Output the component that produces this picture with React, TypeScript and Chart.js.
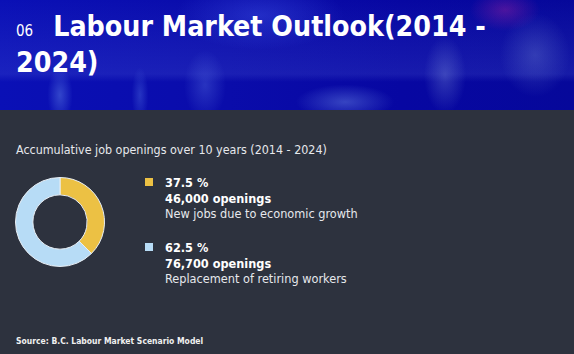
import React, { useEffect, useRef } from "react";
import { Chart, registerables } from "chart.js";

Chart.register(...registerables);

const categories = ["New jobs due to economic growth", "Replacement of retiring workers"];
const percents = [37.5, 62.5];
const openings = ["46,000", "76,700"];
const colors = ["#ECC144", "#B7DCF6"];

const FONT = "'DejaVu Sans Condensed', 'DejaVu Sans', sans-serif";

export default function App() {
  const ref = useRef<HTMLCanvasElement>(null);

  useEffect(() => {
    document.body.style.margin = "0";
    const ctx = ref.current!;
    const chart = new Chart(ctx, {
      type: "doughnut",
      data: {
        labels: categories,
        datasets: [
          {
            data: percents,
            backgroundColor: colors,
            borderColor: "#E8EEF4",
            borderWidth: 1,
          },
        ],
      },
      options: {
        responsive: false,
        animation: false,
        cutout: "61%",
        layout: { padding: 0 },
        plugins: { legend: { display: false }, tooltip: { enabled: false } },
      },
    });
    return () => chart.destroy();
  }, []);

  const headerBg = [
    "radial-gradient(ellipse 50px 30px at 505px 10px, rgba(200,40,160,0.35), rgba(200,40,160,0) 70%)",
    "radial-gradient(ellipse 70px 25px at 345px 102px, rgba(110,140,230,0.45), rgba(110,140,230,0) 70%)",
    "radial-gradient(ellipse 30px 55px at 445px 75px, rgba(130,150,220,0.35), rgba(130,150,220,0) 70%)",
    "radial-gradient(ellipse 50px 60px at 535px 55px, rgba(110,130,210,0.35), rgba(110,130,210,0) 70%)",
    "radial-gradient(ellipse 18px 40px at 60px 95px, rgba(110,150,240,0.4), rgba(110,150,240,0) 70%)",
    "radial-gradient(ellipse 12px 40px at 140px 95px, rgba(100,140,240,0.3), rgba(100,140,240,0) 70%)",
    "radial-gradient(ellipse 30px 50px at 205px 85px, rgba(110,140,240,0.3), rgba(110,140,240,0) 70%)",
    "radial-gradient(ellipse 120px 50px at 260px 15px, rgba(60,80,230,0.45), rgba(60,80,230,0) 70%)",
    "linear-gradient(180deg, rgba(120,140,240,0) 0px, rgba(120,140,240,0.15) 74px, rgba(120,140,240,0) 82px)",
    "linear-gradient(90deg, #0A10B6 0%, #0A0CAA 40%, #0707A2 70%, #06089A 100%)",
  ].join(", ");

  const textStyle: React.CSSProperties = {
    position: "absolute",
    left: 165,
    fontFamily: FONT,
    fontSize: 12.6,
    color: "#E6E8EC",
    whiteSpace: "nowrap",
    lineHeight: "15px",
  };

  return (
    <div
      style={{
        position: "absolute",
        left: 0,
        top: 0,
        width: 574,
        height: 354,
        background: "#2D323E",
        overflow: "hidden",
        fontFamily: FONT,
      }}
    >
      <div
        style={{
          position: "absolute",
          left: 0,
          top: 0,
          width: 574,
          height: 110,
          background: headerBg,
        }}
      />
      <div
        style={{
          position: "absolute",
          left: 16,
          top: 11,
          color: "#FFFFFF",
          fontWeight: "bold",
          fontSize: 28.3,
          lineHeight: "32px",
          whiteSpace: "nowrap",
          fontFamily: FONT,
        }}
      >
        <span style={{ fontSize: 15, fontWeight: "normal", marginRight: 20 }}>06</span>
        Labour Market Outlook(2014 -
        <br />
        2024)
      </div>
      <div
        style={{
          position: "absolute",
          left: 16,
          top: 142,
          fontSize: 12.4,
          color: "#E6E8EC",
          whiteSpace: "nowrap",
          fontWeight: 500,
        }}
      >
        Accumulative job openings over 10 years (2014 - 2024)
      </div>
      <canvas
        ref={ref}
        width={90}
        height={90}
        style={{ position: "absolute", left: 15, top: 177, width: 90, height: 90 }}
      />
      {categories.map((c, i) => {
        const top = 175 + i * 65;
        return (
          <React.Fragment key={c}>
            <div
              style={{
                position: "absolute",
                left: 145,
                top: top + 3,
                width: 8,
                height: 8,
                background: colors[i],
              }}
            />
            <div style={{ ...textStyle, top, fontWeight: "bold", color: "#FFFFFF" }}>
              {percents[i].toFixed(1)} %
            </div>
            <div style={{ ...textStyle, top: top + 16, fontWeight: "bold", color: "#FFFFFF" }}>
              {openings[i]} openings
            </div>
            <div style={{ ...textStyle, top: top + 31 }}>{c}</div>
          </React.Fragment>
        );
      })}
      <div
        style={{
          position: "absolute",
          left: 16,
          top: 336,
          fontSize: 8.5,
          fontWeight: "bold",
          color: "#F0F0F0",
          whiteSpace: "nowrap",
        }}
      >
        Source: B.C. Labour Market Scenario Model
      </div>
    </div>
  );
}
